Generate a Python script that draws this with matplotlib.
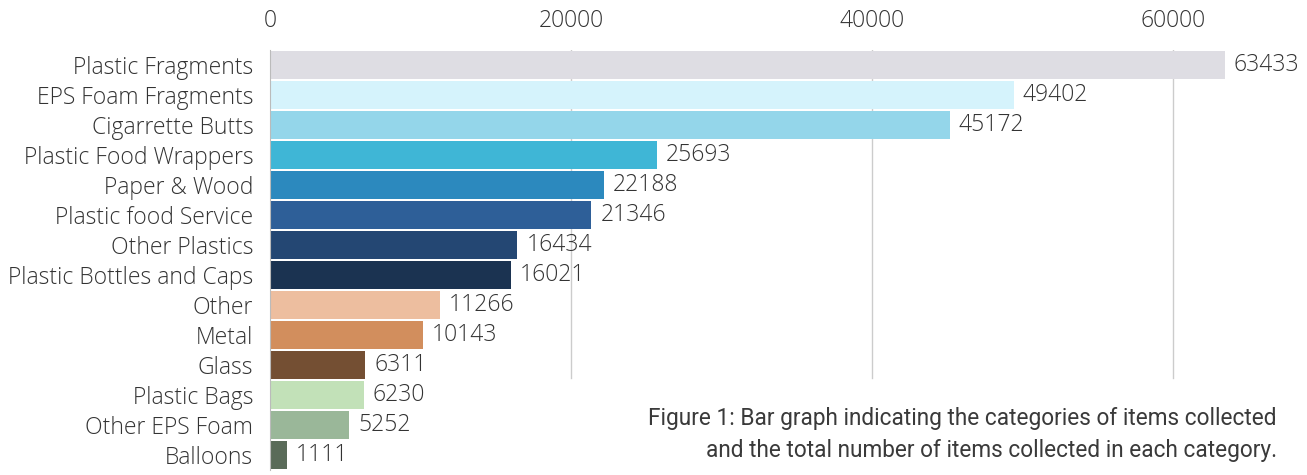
import matplotlib.pyplot as plt

categories = ["Plastic Fragments", "EPS Foam Fragments", "Cigarrette Butts",
              "Plastic Food Wrappers", "Paper & Wood", "Plastic food Service",
              "Other Plastics", "Plastic Bottles and Caps", "Other", "Metal",
              "Glass", "Plastic Bags", "Other EPS Foam", "Balloons"]
counts = [63433, 49402, 45172, 25693, 22188, 21346, 16434, 16021,
          11266, 10143, 6311, 6230, 5252, 1111]
colors = ["#DEDDE3", "#D5F3FC", "#94D6EA", "#3FB6D6", "#2C89BE", "#2E5F98",
          "#244773", "#1B3351", "#EDBE9F", "#D28E5D", "#744F33", "#C2E1B8",
          "#9AB799", "#5A6B59"]
ticks = [0, 20000, 40000, 60000]

plt.rcParams['font.family'] = ['Open Sans', 'DejaVu Sans']
txt = "#333333"
fs = 16.5

fig = plt.figure(figsize=(13.07, 4.75), dpi=100)
ax = fig.add_axes([0.2066, 0.0105, 0.783, 0.884])

ypos = list(range(len(categories)))
for x in ticks[1:]:
    ax.axvline(x, ymin=0.218, ymax=1, color="#cccccc", lw=1, zorder=0)
ax.barh(ypos, counts, height=0.92, color=colors, zorder=2)
for y, v in zip(ypos, counts):
    ax.text(v + 600, y, str(v), va="center", ha="left", fontsize=fs,
            color=txt, fontweight="light")

ax.set_xlim(0, 68000)
ax.set_ylim(len(categories) - 0.5, -0.5)
ax.set_yticks(ypos)
ax.set_yticklabels(categories, fontsize=fs, color=txt, fontweight="light")
ax.set_xticks(ticks)
ax.set_xticklabels([str(t) for t in ticks], fontsize=fs, color=txt,
                   fontweight="light")
ax.xaxis.tick_top()
ax.tick_params(axis="x", length=0, pad=12)
ax.tick_params(axis="y", length=0, pad=12)
for s in ["top", "right", "bottom"]:
    ax.spines[s].set_visible(False)
ax.spines["left"].set_color("#bbbbbb")

fig.text(0.977, 0.086, "Figure 1: Bar graph indicating the categories of items collected\n"
         "and the total number of items collected in each category.",
         ha="right", va="center", fontsize=16.3, color="#3a3a3a",
         family=["Roboto", "DejaVu Sans"], linespacing=1.5)

fig.savefig("out.png", dpi=100)
